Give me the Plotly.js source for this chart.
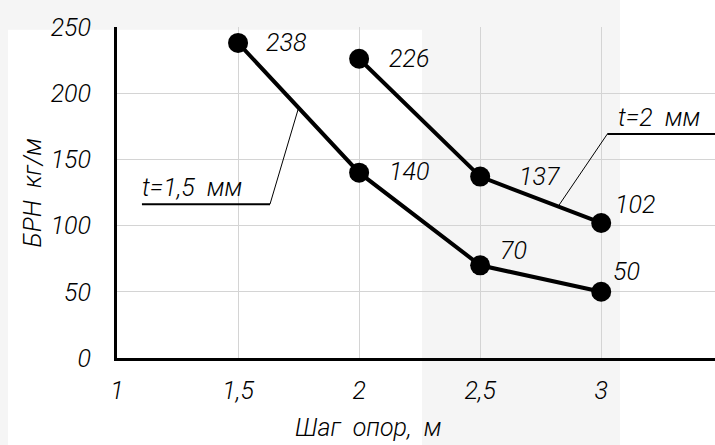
<!DOCTYPE html>
<html>
<head>
<meta charset="utf-8">
<script src="https://cdn.plot.ly/plotly-3.0.1.min.js"></script>
<style>
html,body{margin:0;padding:0;background:#f5f5f5;}
#chart{width:715px;height:445px;}
</style>
</head>
<body>
<div id="chart"></div>
<script>
// ---- data ----
const stepT15 = [1.5, 2, 2.5, 3];
const brnT15 = [238, 140, 70, 50];
const stepT2 = [2, 2.5, 3];
const brnT2 = [226, 137, 102];
const xTickVals = [1, 1.5, 2, 2.5, 3];
const xTickText = ['1', '1,5', '2', '2,5', '3'];
const yTickVals = [0, 50, 100, 150, 200, 250];
const yTickText = ['0', '50', '100', '150', '200', '250'];
const seriesNames = ['t=1,5\u00a0\u00a0мм', 't=2\u00a0\u00a0мм'];
const xTitle = 'Шаг\u00a0\u00a0опор,\u00a0\u00a0м';
const yTitle = 'БРН\u00a0\u00a0кг/м';

// ---- style / placement (pixels) ----
const shiftT15 = [[26, 0], [28, 1], [18, 15], [10, 20]];
const shiftT2 = [[28, 0], [37, 0], [12, 18]];
const FONT = 'Roboto, Liberation Sans, sans-serif';
const fnt = {family: FONT, size: 25, color: '#000', style: 'italic', weight: 300};

function lerpOnSeries(xs, ys, i, f) {
  return [xs[i] + (xs[i + 1] - xs[i]) * f, ys[i] + (ys[i + 1] - ys[i]) * f];
}

const traces = [
  {x: stepT15, y: brnT15, mode: 'lines+markers', name: seriesNames[0],
   line: {color: '#000', width: 4}, marker: {color: '#000', size: 20}},
  {x: stepT2, y: brnT2, mode: 'lines+markers', name: seriesNames[1],
   line: {color: '#000', width: 4}, marker: {color: '#000', size: 20}}
];

const annotations = [];
stepT15.forEach((x, i) => annotations.push({x: x, y: brnT15[i], text: String(brnT15[i]),
  showarrow: false, xanchor: 'left', yanchor: 'middle', xshift: shiftT15[i][0], yshift: shiftT15[i][1], font: fnt}));
stepT2.forEach((x, i) => annotations.push({x: x, y: brnT2[i], text: String(brnT2[i]),
  showarrow: false, xanchor: 'left', yanchor: 'middle', xshift: shiftT2[i][0], yshift: shiftT2[i][1], font: fnt}));

// leader callouts
const leadA = lerpOnSeries(stepT15, brnT15, 0, 0.5);
const kneeA = [1.632, 116.2], ulA = [1.103, 1.632];
const leadB = lerpOnSeries(stepT2, brnT2, 1, 0.644);
const kneeB = [3.025, 169.1], ulB = [3.025, 3.47];

annotations.push({x: ulA[0], y: kneeA[1], text: seriesNames[0], showarrow: false,
  xanchor: 'left', yanchor: 'bottom', yshift: 0, xshift: -2, font: fnt});
annotations.push({x: ulB[0], y: kneeB[1], text: seriesNames[1], showarrow: false,
  xanchor: 'left', yanchor: 'bottom', yshift: 0, xshift: 9, font: fnt});
annotations.push({xref: 'paper', yref: 'paper', x: 0.42, y: -0.21, text: xTitle,
  showarrow: false, xanchor: 'center', yanchor: 'middle', font: fnt});
annotations.push({xref: 'paper', yref: 'paper', x: -0.142, y: 0.5, text: yTitle, textangle: -90,
  showarrow: false, xanchor: 'center', yanchor: 'middle', font: fnt});

const shapes = [
  // background white areas
  {type: 'rect', xref: 'paper', yref: 'paper', x0: -0.1823, x1: 0.510, y0: -0.3, y1: 0.992,
   fillcolor: '#ffffff', line: {width: 0}, layer: 'below'},
  {type: 'rect', xref: 'paper', yref: 'paper', x0: 0.841, x1: 1.01, y0: -0.3, y1: 1.1,
   fillcolor: '#ffffff', line: {width: 0}, layer: 'below'},
  // callout A
  {type: 'line', xref: 'x', yref: 'y', x0: ulA[0], x1: ulA[1], y0: kneeA[1], y1: kneeA[1], line: {color: '#000', width: 2}},
  {type: 'line', xref: 'x', yref: 'y', x0: kneeA[0], x1: leadA[0], y0: kneeA[1], y1: leadA[1], line: {color: '#000', width: 1}},
  // callout B
  {type: 'line', xref: 'x', yref: 'y', x0: ulB[0], x1: ulB[1], y0: kneeB[1], y1: kneeB[1], line: {color: '#000', width: 2}},
  {type: 'line', xref: 'x', yref: 'y', x0: kneeB[0], x1: leadB[0], y0: kneeB[1], y1: leadB[1], line: {color: '#000', width: 1}}
];

const layout = {
  width: 715, height: 445,
  margin: {l: 117, r: 0, t: 27, b: 87, pad: 0},
  paper_bgcolor: '#f5f5f5',
  plot_bgcolor: 'rgba(0,0,0,0)',
  showlegend: false,
  font: fnt,
  xaxis: {range: [1, 3.47], tickvals: xTickVals, ticktext: xTickText, showgrid: true,
    gridcolor: '#d4d4d4', gridwidth: 1, zeroline: false, showline: true, linecolor: '#000',
    linewidth: 3, ticks: '', ticklabelstandoff: 8, tickfont: fnt, fixedrange: true},
  yaxis: {range: [0, 250], tickvals: yTickVals, ticktext: yTickText, showgrid: true,
    gridcolor: '#d4d4d4', gridwidth: 1, zeroline: false, showline: true, linecolor: '#000',
    linewidth: 3, ticks: '', ticklabelstandoff: 18, tickfont: fnt, fixedrange: true},
  annotations: annotations,
  shapes: shapes
};

Plotly.newPlot('chart', traces, layout, {displayModeBar: false, staticPlot: true});
</script>
</body>
</html>
